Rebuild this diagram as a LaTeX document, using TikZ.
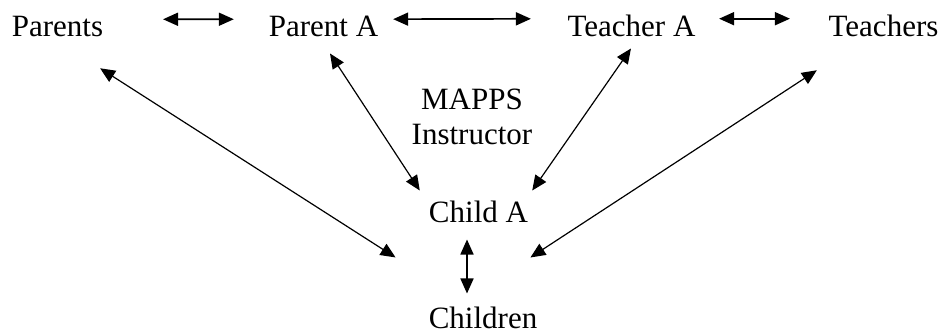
\documentclass[tikz,border=0pt]{standalone}
\usepackage{fontspec}
\setmainfont{Liberation Serif}
\usetikzlibrary{arrows.meta}
\begin{document}
\begin{tikzpicture}[x=1pt,y=1pt,>={Triangle[length=15pt,width=13pt]},font=\fontsize{31}{35}\selectfont,
	lbl/.style={inner sep=0pt,anchor=base},
	link/.style={<->,line width=1.2pt},
	pair/.style={<->,line width=1.7pt}]
		\useasboundingbox (0,0) rectangle (944,333);
		\node[lbl] (parents) at (57.5,297) {Parents};
		\node[lbl] (parentA) at (323.5,297) {Parent A};
		\node[lbl] (teacherA) at (631.5,297) {Teacher A};
		\node[lbl] (teachers) at (883.5,297) {Teachers};
		\node[inner sep=0pt,anchor=north,align=center] (mapps) at (472,244.5) {MAPPS\\Instructor};
		\node[lbl] (childA) at (478.5,111) {Child A};
		\node[lbl] (children) at (483,4.5) {Children};
		\draw[pair,shorten <=59.7pt,shorten >=34.8pt] ([yshift=6.7pt]parents.east) -- ([yshift=6.7pt]parentA.west);
		\draw[pair,shorten <=14.8pt,shorten >=36.5pt] ([yshift=6.7pt]parentA.east) -- ([yshift=6.7pt]teacherA.west);
		\draw[pair,shorten <=23.5pt,shorten >=38.5pt] ([yshift=6.7pt]teacherA.east) -- ([yshift=6.7pt]teachers.west);
		\draw[link,shorten <=58.9pt,shorten >=91.5pt] ([xshift=-7pt]parents.south) -- ([xshift=-10.4pt]children.north);
		\draw[link,shorten <=20.3pt,shorten >=11.7pt] ([xshift=-4.6pt]parentA.south) -- ([xshift=-2.6pt]childA.north west);
		\draw[link,shorten <=14.6pt,shorten >=11.9pt] ([xshift=7.8pt]teacherA.south) -- ([xshift=-2.8pt]childA.north east);
		\draw[link,shorten <=61.7pt,shorten >=90.1pt] ([xshift=-15pt]teachers.south) -- ([xshift=-28pt]children.north);
		\draw[pair,shorten <=17pt,shorten >=13.3pt] ([xshift=-11.5pt]childA.south) -- ([xshift=-16pt]children.north);
\end{tikzpicture}
\end{document}
